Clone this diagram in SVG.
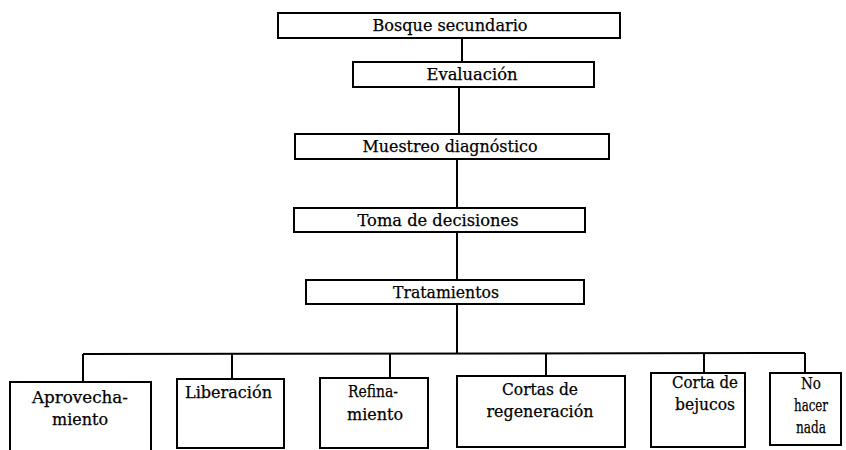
<svg xmlns="http://www.w3.org/2000/svg" width="846" height="450" viewBox="0 0 846 450">
<style>
.box{fill:#fff;stroke:#000;stroke-width:2}
.ln{fill:none;stroke:#000;stroke-width:2}
text{font-family:"DejaVu Serif","Liberation Serif",serif;font-size:16.5px;fill:#000;stroke:#000;stroke-width:0.25}
.c{text-anchor:middle}
</style>
<rect width="846" height="450" fill="#fff"/>
<g id="connectors">
<line class="ln" x1="462" y1="38" x2="462" y2="62"/>
<line class="ln" x1="459" y1="87" x2="459" y2="134"/>
<line class="ln" x1="457" y1="159" x2="457" y2="208"/>
<line class="ln" x1="457" y1="232" x2="457" y2="280"/>
<line class="ln" x1="457" y1="304" x2="457" y2="354"/>
<line class="ln" x1="83" y1="354" x2="805" y2="353"/>
<line class="ln" x1="83" y1="354" x2="83" y2="382"/>
<line class="ln" x1="232" y1="354" x2="232" y2="379"/>
<line class="ln" x1="390" y1="354" x2="390" y2="378"/>
<line class="ln" x1="546" y1="354" x2="546" y2="376"/>
<line class="ln" x1="704" y1="353" x2="704" y2="373"/>
<line class="ln" x1="805" y1="353" x2="805" y2="373"/>
</g>
<g id="n1"><rect class="box" x="278" y="13" width="342" height="25"/><text class="c" x="450" y="31" textLength="155" lengthAdjust="spacingAndGlyphs">Bosque secundario</text></g>
<g id="n2"><rect class="box" x="353" y="62" width="241" height="25"/><text class="c" x="472" y="80" textLength="91" lengthAdjust="spacingAndGlyphs">Evaluación</text></g>
<g id="n3"><rect class="box" x="295" y="134" width="314" height="25"/><text class="c" x="450" y="152" textLength="175" lengthAdjust="spacingAndGlyphs">Muestreo diagnóstico</text></g>
<g id="n4"><rect class="box" x="294" y="208" width="291" height="24"/><text class="c" x="438" y="226" textLength="161" lengthAdjust="spacingAndGlyphs">Toma de decisiones</text></g>
<g id="n5"><rect class="box" x="306" y="280" width="278" height="24"/><text class="c" x="446" y="298" textLength="106" lengthAdjust="spacingAndGlyphs">Tratamientos</text></g>
<g id="n6"><rect class="box" x="10" y="382" width="141" height="72"/><text class="c" x="80" y="403" textLength="96" lengthAdjust="spacingAndGlyphs">Aprovecha-</text><text class="c" x="80" y="425" textLength="56" lengthAdjust="spacingAndGlyphs">miento</text></g>
<g id="n7"><rect class="box" x="177" y="379" width="107" height="69"/><text x="185" y="398" textLength="87" lengthAdjust="spacingAndGlyphs">Liberación</text></g>
<g id="n8"><rect class="box" x="320" y="378" width="108" height="70"/><text class="c" x="373" y="397" textLength="50" lengthAdjust="spacingAndGlyphs">Refina-</text><text class="c" x="375" y="420" textLength="56" lengthAdjust="spacingAndGlyphs">miento</text></g>
<g id="n9"><rect class="box" x="457" y="376" width="168" height="71"/><text class="c" x="540" y="395" textLength="76" lengthAdjust="spacingAndGlyphs">Cortas de</text><text class="c" x="540" y="417" textLength="107" lengthAdjust="spacingAndGlyphs">regeneración</text></g>
<g id="n10"><rect class="box" x="651" y="373" width="94" height="74"/><text class="c" x="705" y="388" textLength="66" lengthAdjust="spacingAndGlyphs">Corta de</text><text class="c" x="705" y="410" textLength="60" lengthAdjust="spacingAndGlyphs">bejucos</text></g>
<g id="n11"><rect class="box" x="770" y="373" width="71" height="72"/><text class="c" x="811" y="389" textLength="20" lengthAdjust="spacingAndGlyphs">No</text><text class="c" x="811" y="411" textLength="34" lengthAdjust="spacingAndGlyphs">hacer</text><text class="c" x="811" y="433" textLength="30" lengthAdjust="spacingAndGlyphs">nada</text></g>
</svg>
